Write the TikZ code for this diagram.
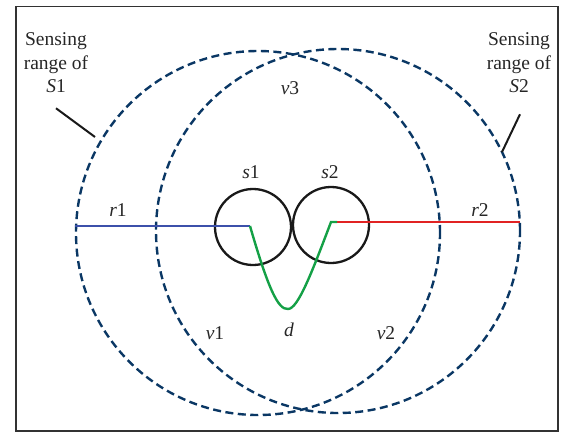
\documentclass[tikz,border=0pt]{standalone}
\usepackage{fontspec}
\setmainfont{Liberation Serif}
\begin{document}
\begin{tikzpicture}[x=1pt,y=-1pt,
  rangecircle/.style={draw=rangecol, line width=2.4pt, dash pattern=on 8pt off 4.5pt},
  sensor/.style={circle, draw=black!90, line width=2.3pt, minimum size=76pt, inner sep=0pt},
  lbl/.style={font=\fontsize{19.5}{23}\selectfont, inner sep=0pt, text=black!85},
  callout/.style={font=\fontsize{19.5}{23.5}\selectfont, align=center, inner sep=0pt, text=black!85},
  leader/.style={draw=black!90, line width=2pt},
  ray/.style={line width=2.4pt}]
\definecolor{rangecol}{RGB}{10,55,100}
\definecolor{bluecol}{RGB}{60,80,170}
\definecolor{redcol}{RGB}{225,35,35}
\definecolor{greencol}{RGB}{20,160,70}
\definecolor{framecol}{RGB}{50,50,50}
\useasboundingbox (0,0) rectangle (564,432);
\draw[framecol, line width=1.6pt] (16,6.5) -- (558,6.5) -- (558,431) -- (16,431) -- cycle;
% sensing ranges
\node[rangecircle, circle, minimum size=364pt, inner sep=0pt] (R1) at (258,233) {};
\node[rangecircle, circle, minimum size=364pt, inner sep=0pt] (R2) at (338,231) {};
% sensors
\node[sensor] (s1) at (253,227) {};
\node[sensor] (s2) at (331,225) {};
\coordinate (c1) at (250,226);
\coordinate (c2) at (331,222);
\coordinate (r1end) at (75,226);
\coordinate (r2end) at (520,222);
\draw[ray, bluecol] (r1end) -- (c1);
\draw[ray, redcol] (c2) -- (r2end);
\draw[ray, greencol] (c1) .. controls (268,288) and (278,310) .. (288,309)
  .. controls (298,309) and (312,272) .. (c2) -- ++(6,0);
% labels
\node[lbl] (ls1) at (251,172) {\textit{s}1};
\node[lbl] (ls2) at (330,172) {\textit{s}2};
\node[lbl] (lr1) at (118,210) {\textit{r}1};
\node[lbl] (lr2) at (480,210) {\textit{r}2};
\node[lbl] (lv3) at (290,88) {\textit{v}3};
\node[lbl] (lv1) at (215,333) {\textit{v}1};
\node[lbl] (ld) at (289,330) {\textit{d}};
\node[lbl] (lv2) at (386,333) {\textit{v}2};
% callouts
\node[callout] (t1) at (56,63) {Sensing\\range of\\\textit{S}1};
\node[callout] (t2) at (519,63) {Sensing\\range of\\\textit{S}2};
\coordinate (p1) at (95,137);
\coordinate (p2) at (502,152);
\draw[leader] ([shift={(0,15)}]t1.south) -- (p1);
\draw[leader] ([shift={(1,21)}]t2.south) -- (p2);
\end{tikzpicture}
\end{document}
